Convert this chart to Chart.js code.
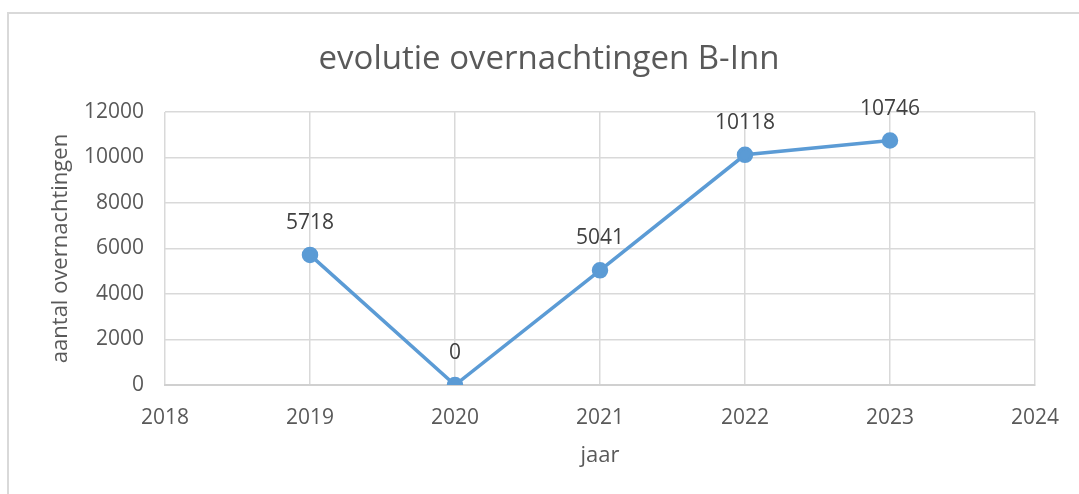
<!DOCTYPE html>
<html>
<head>
<meta charset="utf-8">
<script src="https://cdn.jsdelivr.net/npm/chart.js@4.4.1/dist/chart.umd.min.js"></script>
<style>
  html, body { margin: 0; padding: 0; background: #fff; }
  #wrap { width: 1079px; height: 494px; }
</style>
</head>
<body>
<div id="wrap"><canvas id="chart" width="1079" height="494"></canvas></div>
<script>
// data
var years = [2019, 2020, 2021, 2022, 2023];
var stays = [5718, 0, 5041, 10118, 10746];
var xRange = [2018, 2024];
var yRange = [0, 12000];

var FONT = "'Open Sans', sans-serif";

// outer frame + title
var framePlugin = {
    id: 'frame',
    beforeDraw: function (chart) {
        var ctx = chart.ctx;
        ctx.save();
        ctx.fillStyle = '#ffffff';
        ctx.fillRect(0, 0, chart.width, chart.height);
        ctx.strokeStyle = '#d9d9d9';
        ctx.lineWidth = 2;
        ctx.strokeRect(8, 13, 1200, 600);
        ctx.fillStyle = '#595959';
        ctx.font = '33px ' + FONT;
        ctx.textAlign = 'center';
        ctx.textBaseline = 'middle';
        ctx.fillText('evolutie overnachtingen B-Inn', 549, 60);
        ctx.restore();
    }
};

// value labels above points
var labelPlugin = {
    id: 'valueLabels',
    afterDatasetsDraw: function (chart) {
        var ctx = chart.ctx;
        var meta = chart.getDatasetMeta(0);
        ctx.save();
        ctx.fillStyle = '#404040';
        ctx.font = '21px ' + FONT;
        ctx.textAlign = 'center';
        ctx.textBaseline = 'middle';
        meta.data.forEach(function (pt, i) {
            ctx.fillText(String(stays[i]), pt.x, pt.y - 32);
        });
        ctx.restore();
    }
};

var canvasElement = document.getElementById("chart");
var config = {
    type: "line",
    data: {
        datasets: [{
            label: "overnachtingen",
            data: years.map(function (y, i) { return { x: y, y: stays[i] }; }),
            borderColor: "#5b9bd5",
            backgroundColor: "#5b9bd5",
            pointBackgroundColor: "#5b9bd5",
            pointBorderColor: "#5b9bd5",
            borderWidth: 3.5,
            pointRadius: 6.5,
            tension: 0
        }]
    },
    options: {
        responsive: false,
        animation: false,
        layout: {
            padding: { left: 0, top: 112, right: 38, bottom: 0 }
        },
        plugins: {
            legend: { display: false },
            tooltip: { enabled: false }
        },
        scales: {
            x: {
                type: 'linear',
                min: xRange[0],
                max: xRange[1],
                afterFit: function (s) { s.height = 109; },
                grid: {
                    color: '#d9d9d9',
                    lineWidth: 1.5,
                    drawTicks: false
                },
                border: { color: '#d0d0d0', width: 2 },
                ticks: {
                    stepSize: 1,
                    padding: 20,
                    color: '#595959',
                    font: { family: FONT, size: 21 },
                    callback: function (v) { return String(v); }
                },
                title: {
                    display: true,
                    text: 'jaar',
                    color: '#595959',
                    font: { family: FONT, size: 22 },
                    padding: { top: 0, bottom: 25 }
                }
            },
            y: {
                min: yRange[0],
                max: yRange[1],
                afterFit: function (s) { s.width = 165; },
                grid: {
                    color: '#d9d9d9',
                    lineWidth: 1.5,
                    drawTicks: false
                },
                border: { display: false },
                ticks: {
                    stepSize: 2000,
                    padding: 21,
                    color: '#595959',
                    font: { family: FONT, size: 21 },
                    callback: function (v) { return String(v); }
                },
                title: {
                    display: true,
                    text: 'aantal overnachtingen',
                    color: '#595959',
                    font: { family: FONT, size: 22 },
                    padding: { top: 48, bottom: 0 }
                }
            }
        }
    },
    plugins: [framePlugin, labelPlugin]
};
var chart = new Chart(canvasElement, config);
</script>
</body>
</html>
